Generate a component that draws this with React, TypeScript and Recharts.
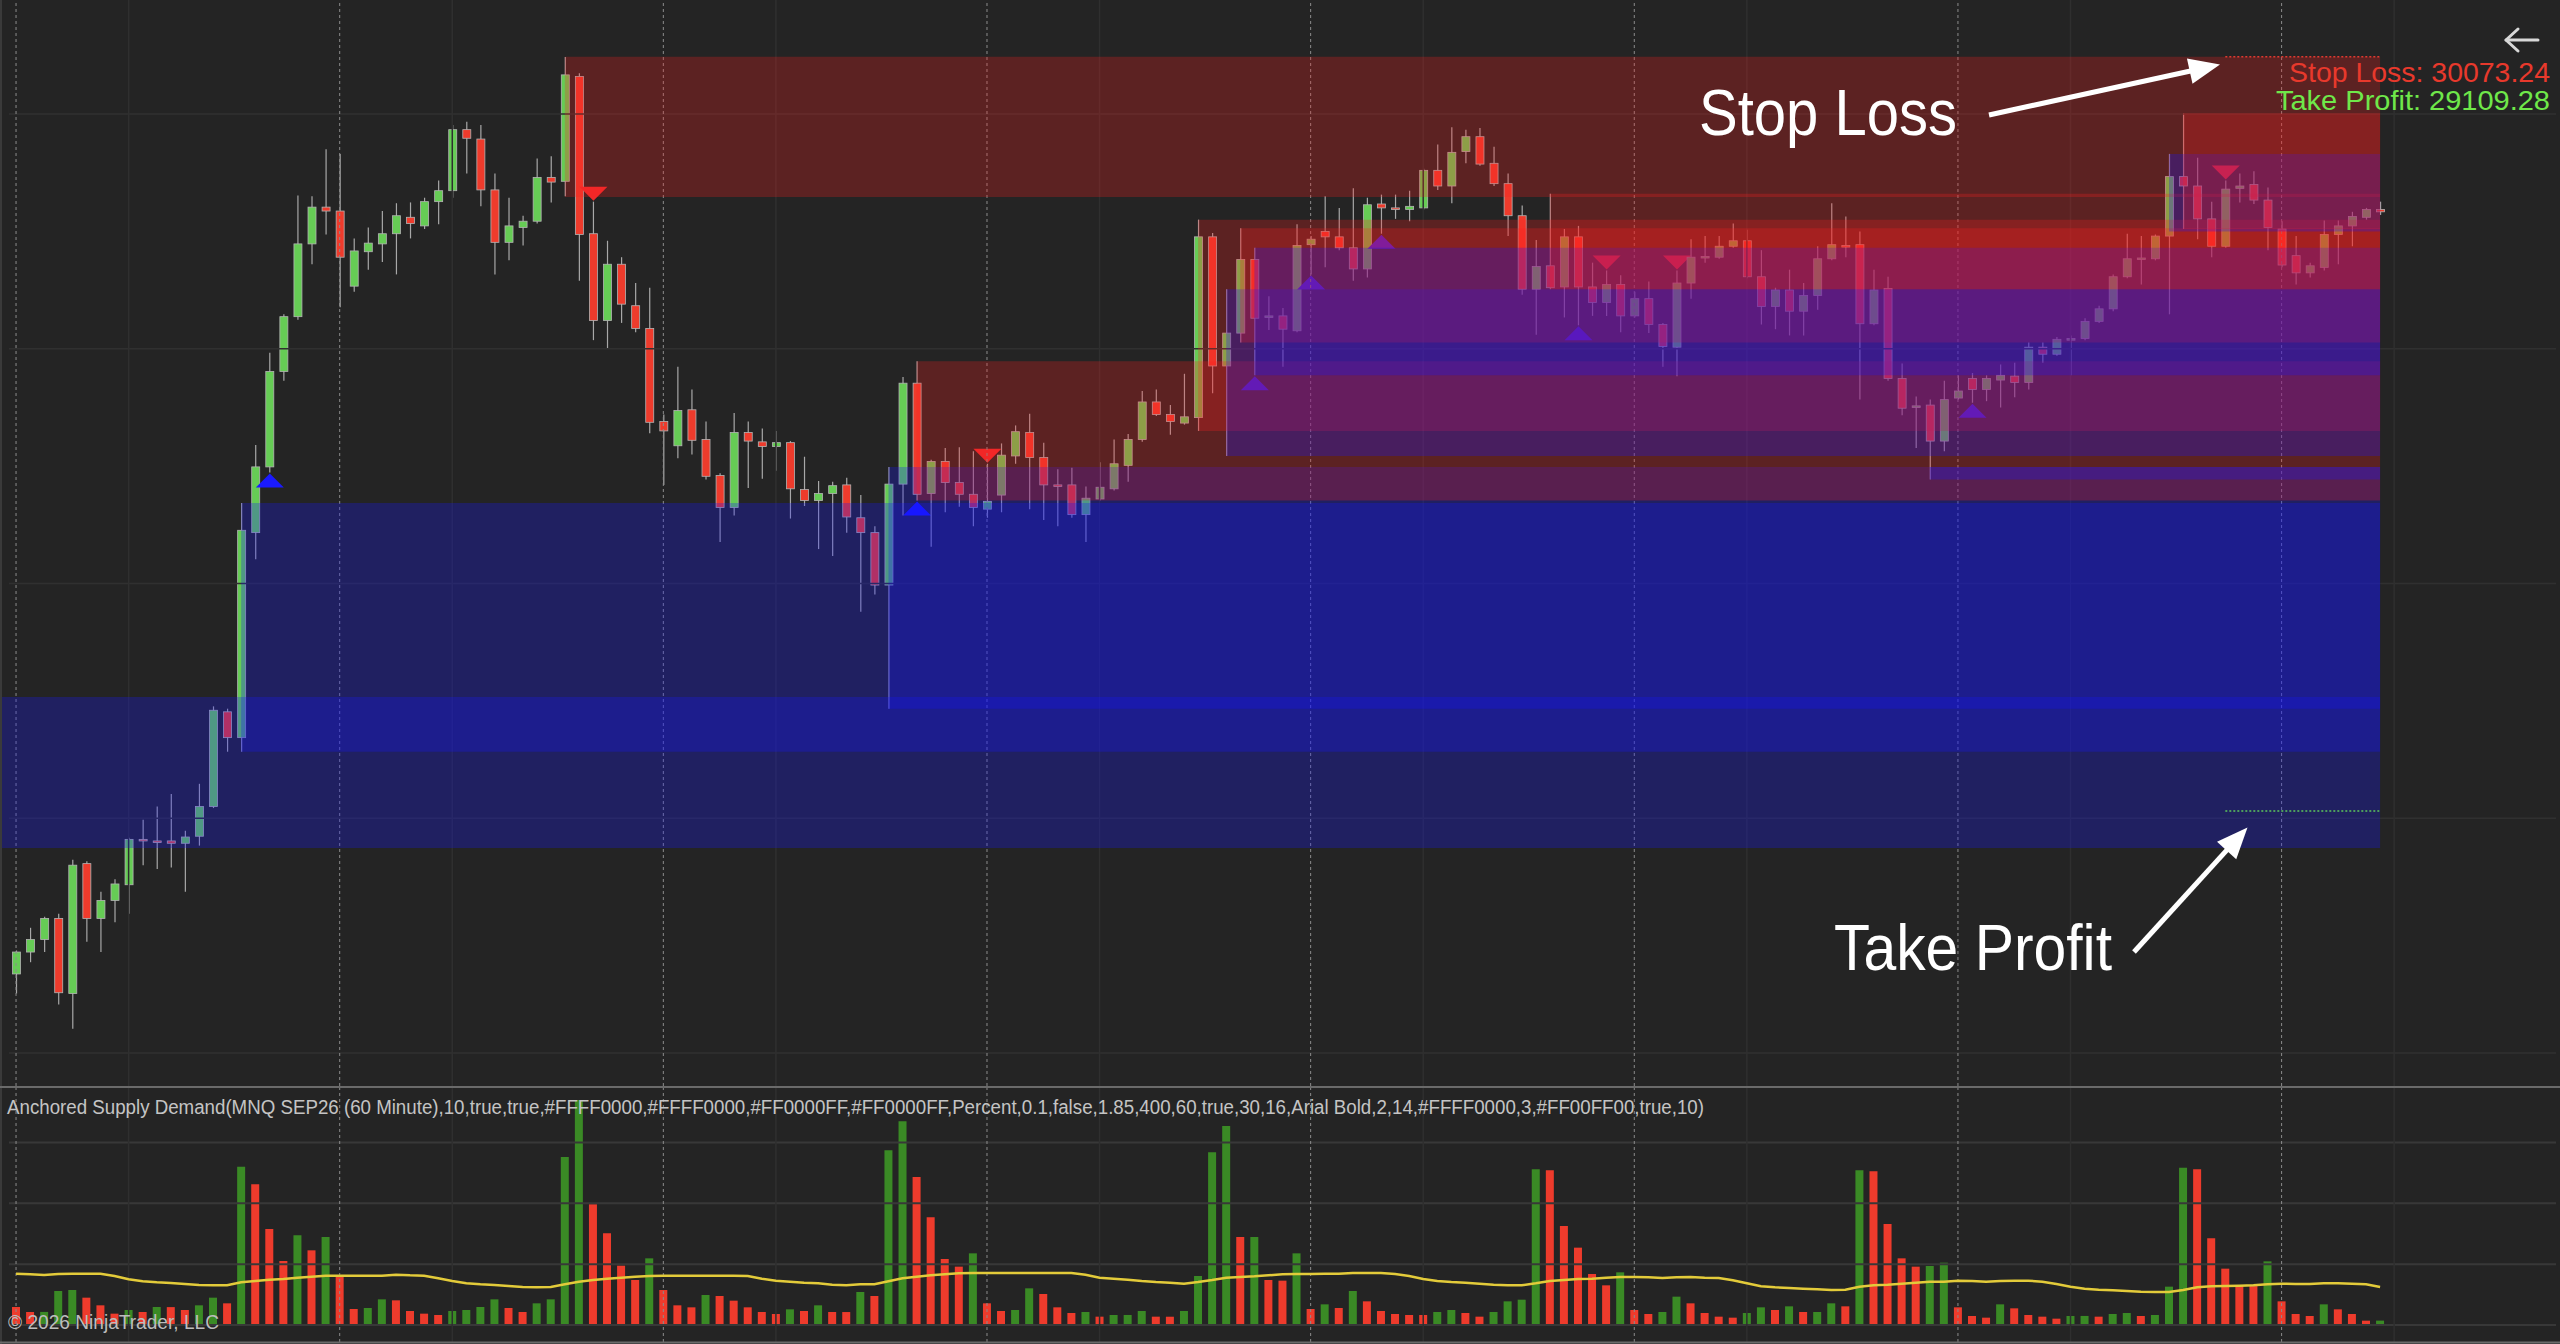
import { ComposedChart, Bar, Line, Cell, XAxis, YAxis, ReferenceLine, ReferenceArea } from 'recharts'

// MNQ SEP26, 60 minute bars
const OPEN = [
  28901, 28929, 28945, 28972, 28876, 29042, 28972, 28995, 29015, 29073,
  29071, 29071, 29068, 29077, 29115, 29236, 29203, 29465, 29549, 29671,
  29741, 29834, 29881, 29876, 29780, 29824, 29834, 29847, 29868, 29857,
  29888, 29902, 29980, 29968, 29903, 29836, 29855, 29863, 29919, 29914,
  30048, 29847, 29736, 29808, 29755, 29726, 29607, 29576, 29622, 29584,
  29538, 29497, 29593, 29581, 29575, 29580, 29520, 29506, 29515, 29526,
  29484, 29465, 29398, 29527, 29656, 29515, 29556, 29529, 29514, 29495,
  29513, 29563, 29593, 29561, 29526, 29526, 29488, 29508, 29521, 29551,
  29584, 29632, 29616, 29605, 29612, 29843, 29678, 29720, 29814, 29740,
  29742, 29723, 29833, 29850, 29843, 29829, 29802, 29885, 29880, 29878,
  29880, 29928, 29908, 29952, 29971, 29937, 29911, 29870, 29776, 29806,
  29779, 29843, 29779, 29759, 29782, 29742, 29764, 29731, 29702, 29784,
  29817, 29817, 29831, 29838, 29792, 29754, 29775, 29748, 29768, 29815,
  29832, 29833, 29732, 29777, 29662, 29625, 29628, 29582, 29637, 29662,
  29648, 29660, 29665, 29657, 29702, 29693, 29712, 29713, 29735, 29751,
  29792, 29815, 29815, 29844, 29920, 29908, 29866, 29831, 29905, 29910,
  29890, 29853, 29819, 29797, 29804, 29846, 29857, 29868, 29878,
]
const HIGH = [
  28931, 28960, 28974, 28978, 29047, 29045, 29006, 29022, 29075, 29098,
  29115, 29131, 29084, 29144, 29243, 29240, 29503, 29577, 29695, 29744,
  29896, 29895, 29955, 29949, 29841, 29855, 29876, 29886, 29887, 29893,
  29915, 29986, 29990, 29986, 29924, 29893, 29870, 29943, 29946, 30073,
  30052, 29888, 29838, 29817, 29784, 29778, 29616, 29677, 29648, 29607,
  29541, 29618, 29607, 29598, 29595, 29582, 29562, 29531, 29530, 29535,
  29513, 29473, 29549, 29664, 29684, 29558, 29573, 29574, 29569, 29553,
  29579, 29602, 29617, 29580, 29546, 29548, 29524, 29555, 29584, 29591,
  29646, 29648, 29628, 29668, 29865, 29848, 29776, 29854, 29829, 29767,
  29752, 29859, 29844, 29895, 29880, 29905, 29893, 29897, 29897, 29902,
  29930, 29961, 29983, 29980, 29982, 29958, 29924, 29883, 29839, 29898,
  29853, 29857, 29810, 29800, 29794, 29773, 29786, 29733, 29800, 29840,
  29844, 29844, 29860, 29852, 29826, 29778, 29801, 29784, 29831, 29886,
  29869, 29850, 29801, 29792, 29681, 29639, 29635, 29659, 29666, 29669,
  29666, 29680, 29682, 29708, 29708, 29715, 29717, 29739, 29755, 29795,
  29847, 29844, 29846, 29949, 30001, 29944, 29888, 29915, 29924, 29927,
  29906, 29863, 29844, 29810, 29864, 29864, 29875, 29880, 29888,
]
const LOW = [
  28876, 28916, 28929, 28862, 28831, 28942, 28929, 28967, 28978, 29040,
  29035, 29037, 29006, 29065, 29113, 29185, 29185, 29431, 29542, 29659,
  29737, 29808, 29846, 29753, 29773, 29801, 29811, 29795, 29841, 29853,
  29859, 29893, 29924, 29882, 29795, 29813, 29832, 29860, 29887, 29895,
  29787, 29711, 29700, 29733, 29721, 29592, 29526, 29560, 29565, 29533,
  29453, 29487, 29522, 29534, 29544, 29483, 29499, 29444, 29435, 29465,
  29364, 29386, 29240, 29487, 29506, 29447, 29491, 29498, 29473, 29484,
  29491, 29553, 29495, 29481, 29473, 29484, 29453, 29506, 29519, 29530,
  29581, 29614, 29590, 29603, 29595, 29643, 29563, 29708, 29666, 29724,
  29677, 29721, 29795, 29804, 29826, 29787, 29791, 29847, 29866, 29863,
  29878, 29903, 29886, 29937, 29934, 29908, 29844, 29769, 29718, 29776,
  29740, 29730, 29742, 29742, 29721, 29740, 29720, 29677, 29665, 29764,
  29810, 29815, 29829, 29790, 29731, 29725, 29717, 29717, 29750, 29813,
  29817, 29635, 29730, 29659, 29615, 29573, 29533, 29569, 29635, 29631,
  29633, 29625, 29638, 29648, 29682, 29691, 29666, 29711, 29733, 29748,
  29790, 29782, 29813, 29744, 29853, 29840, 29817, 29829, 29887, 29885,
  29826, 29804, 29782, 29791, 29800, 29808, 29831, 29865, 29871,
]
const CLOSE = [
  28929, 28945, 28972, 28877, 29040, 28972, 28995, 29016, 29073, 29072,
  29070, 29068, 29076, 29115, 29238, 29203, 29468, 29549, 29671, 29741,
  29834, 29881, 29876, 29817, 29825, 29835, 29847, 29870, 29860, 29888,
  29902, 29980, 29969, 29903, 29836, 29857, 29863, 29919, 29913, 30050,
  29846, 29736, 29808, 29757, 29726, 29606, 29595, 29621, 29583, 29537,
  29497, 29593, 29582, 29575, 29580, 29521, 29506, 29515, 29525, 29485,
  29465, 29398, 29527, 29656, 29514, 29556, 29529, 29514, 29497, 29505,
  29564, 29594, 29561, 29526, 29525, 29488, 29509, 29523, 29553, 29584,
  29632, 29616, 29607, 29613, 29843, 29678, 29720, 29814, 29739, 29742,
  29725, 29832, 29840, 29843, 29829, 29802, 29884, 29880, 29879, 29882,
  29928, 29908, 29951, 29971, 29936, 29911, 29870, 29776, 29805, 29778,
  29843, 29779, 29759, 29782, 29742, 29764, 29731, 29703, 29784, 29817,
  29818, 29831, 29838, 29792, 29754, 29775, 29748, 29768, 29815, 29833,
  29831, 29732, 29775, 29662, 29624, 29627, 29582, 29635, 29646, 29648,
  29662, 29666, 29657, 29702, 29693, 29712, 29713, 29735, 29751, 29792,
  29815, 29816, 29844, 29920, 29908, 29866, 29831, 29904, 29908, 29890,
  29855, 29807, 29797, 29806, 29846, 29857, 29869, 29878, 29875,
]
const VOLUME = [
  2959, 2137, 2150, 5590, 5754, 4494, 3233, 1863, 2466, 2137,
  2959, 2940, 2466, 3233, 4494, 3562, 26030, 23126, 15782, 10522,
  14741, 12275, 14467, 7946, 2630, 2795, 4220, 4055, 2302, 1863,
  1644, 2302, 2466, 2959, 4220, 2795, 2137, 3562, 4220, 27619,
  36990, 19838, 15070, 9754, 7398, 10960, 5754, 3233, 2904, 4932,
  4768, 4000, 2904, 2137, 1808, 2576, 2302, 3233, 2137, 2130,
  5425, 4768, 28715, 33483, 24331, 17700, 10850, 9590, 11782, 3562,
  2302, 2466, 6028, 5096, 2904, 1973, 2137, 1370, 1644, 1650,
  2302, 1370, 1360, 2302, 8056, 28386, 32716, 14467, 14480, 7398,
  7288, 11782, 2630, 3398, 2795, 5590, 3891, 2302, 1808, 1644,
  1640, 2137, 2466, 1973, 1370, 2137, 3891, 4165, 25592, 25427,
  16276, 12714, 8384, 6521, 8658, 2466, 1808, 2137, 4658, 3562,
  1973, 1370, 1206, 1973, 2904, 2466, 3069, 2137, 2140, 3562,
  3069, 25427, 25263, 16604, 10960, 9590, 9700, 10248, 2904, 1480,
  1206, 3398, 2740, 1644, 1370, 1041, 1480, 1490, 1370, 1808,
  1973, 1480, 1644, 6302, 25866, 25592, 14248, 9261, 6412, 6400,
  10467, 3891, 1808, 1480, 3398, 2576, 1808, 712, 720,
]
// yellow volume average line
const VOLUME_AVG = [
  8439, 8330, 8220, 8384, 8439, 8439, 8439, 8056, 7508, 7179,
  7014, 6905, 6740, 6576, 6521, 6521, 7014, 7234, 7453, 7562,
  7782, 7946, 8110, 8110, 8110, 8110, 8110, 8275, 8165, 8110,
  7672, 7234, 6850, 6686, 6576, 6412, 6247, 6192, 6247, 6686,
  7124, 7398, 7617, 7782, 7946, 8056, 8110, 8110, 8110, 8110,
  8110, 8110, 8056, 7617, 7288, 7124, 6960, 6850, 6631, 6521,
  6686, 6686, 7179, 7672, 7946, 8165, 8330, 8494, 8549, 8549,
  8549, 8549, 8549, 8549, 8549, 8549, 8275, 7782, 7617, 7453,
  7234, 7069, 6960, 6795, 7069, 7398, 7782, 7891, 8001, 8165,
  8330, 8384, 8384, 8439, 8439, 8549, 8549, 8549, 8384, 8056,
  7562, 7234, 7069, 6960, 6795, 6631, 6521, 6521, 6850, 7234,
  7398, 7562, 7617, 7782, 7891, 7891, 7836, 7727, 7836, 7891,
  7782, 7727, 7343, 6850, 6357, 6192, 6083, 5973, 5864, 5754,
  5809, 6302, 6521, 6631, 6795, 6960, 7124, 7124, 7288, 7234,
  7124, 7234, 7288, 7288, 7124, 6740, 6302, 5973, 5809, 5699,
  5590, 5480, 5425, 5425, 5754, 6192, 6357, 6412, 6466, 6521,
  6686, 6795, 6740, 6740, 6850, 6850, 6795, 6686, 6247,
]

// anchored zones: kind, anchor bar, top, bottom (all run to the last bar)
const ZONE_KIND = ['demand', 'demand', 'supply', 'demand', 'supply', 'supply', 'demand', 'supply', 'demand', 'supply', 'demand', 'demand', 'supply']
const ZONE_FROM = [-1, 16, 39, 62, 64, 84, 86, 87, 88, 109, 136, 153, 154]
const ZONE_HIGH = [29255, 29503, 30073.24, 29549, 29684, 29865, 29776, 29854, 29829, 29898, 29549, 29949, 30001]
const ZONE_LOW = [29062, 29185, 29894, 29240, 29506, 29595, 29563, 29708, 29666, 29776, 29533, 29850, 29853]

const DEMAND_MARKS = [18, 64, 88, 92, 97, 111, 139]
const SUPPLY_MARKS = [41, 69, 113, 118, 157]

const STOP_LOSS = 30073.24
const TAKE_PROFIT = 29109.28
const LEVEL_FROM = 157

const SESSION_BARS = [0, 23, 46, 69, 92, 115, 138, 161]
const TIME_GRID_BARS = [8, 31, 54, 77, 100, 123, 146, 169]
const PRICE_GRID = [30000, 29700, 29400, 29100, 28800]
const VOLUME_GRID = [0, 10000, 20000, 30000]

const LABEL =
  'Anchored Supply Demand(MNQ SEP26 (60 Minute),10,true,true,#FFFF0000,#FFFF0000,#FF0000FF,#FF0000FF,Percent,0.1,false,1.85,400,60,true,30,16,Arial Bold,2,14,#FFFF0000,3,#FF00FF00,true,10)'

const W = 2560
const PRICE_H = 1086
const VOL_TOP = 1087
const VOL_H = 255
const P_MIN = 28757.8
const P_MAX = 30145.7
const V_MIN = -2795
const V_MAX = 39125
const SLOTS = 181

const BG = '#242424'
const UP = '#66cc55'
const DOWN = '#ee3b2c'
const VOL_UP = '#3a8a25'
const FONT = '"Liberation Sans", Arial, sans-serif'

interface Row {
  idx: number
  open?: number
  high?: number
  low?: number
  close?: number
  range?: [number, number]
  vol?: number
  avg?: number
  volColor?: string
  demand?: boolean
  supply?: boolean
}

const rows: Row[] = Array.from({ length: SLOTS }, (_, i) => {
  if (i >= OPEN.length) return { idx: i }
  return {
    idx: i,
    open: OPEN[i],
    high: HIGH[i],
    low: LOW[i],
    close: CLOSE[i],
    range: [LOW[i], HIGH[i]],
    vol: VOLUME[i],
    avg: VOLUME_AVG[i],
    volColor: i > 0 && VOLUME[i] > VOLUME[i - 1] ? VOL_UP : DOWN,
    demand: DEMAND_MARKS.includes(i),
    supply: SUPPLY_MARKS.includes(i),
  }
})

function Candle(props: any) {
  const { x, y, width, height, payload } = props
  if (!payload || payload.open == null || y == null || height == null) return null
  const { open, close, high, low } = payload
  const top = Math.min(y, y + height)
  const h = Math.abs(height)
  const span = high - low || 1
  const py = (v: number) => top + ((high - v) / span) * h
  const cx = x + width / 2
  const up = close >= open
  const bodyTop = py(Math.max(open, close))
  const bodyH = Math.max(py(Math.min(open, close)) - bodyTop, 1.6)
  const bottom = top + h
  return (
    <g>
      <line x1={cx} x2={cx} y1={top} y2={bottom} stroke="#a8a8a8" strokeWidth={1.2} />
      <rect x={cx - 4} y={bodyTop} width={8} height={bodyH} fill={up ? UP : DOWN} stroke="#b4b4b4" strokeWidth={0.8} />
      {payload.demand && (
        <polygon points={`${cx},${bottom + 1} ${cx - 14},${bottom + 15} ${cx + 14},${bottom + 15}`} fill="#1a1aff" />
      )}
      {payload.supply && (
        <polygon points={`${cx},${top - 1} ${cx - 14},${top - 15} ${cx + 14},${top - 15}`} fill="#ee2a2a" />
      )}
    </g>
  )
}

function Arrow({ from, to }: { from: [number, number]; to: [number, number] }) {
  const dx = to[0] - from[0]
  const dy = to[1] - from[1]
  const len = Math.hypot(dx, dy)
  const ux = dx / len
  const uy = dy / len
  const bx = to[0] - ux * 31
  const by = to[1] - uy * 31
  const nx = -uy * 13
  const ny = ux * 13
  return (
    <g>
      <line x1={from[0]} y1={from[1]} x2={bx + ux * 2} y2={by + uy * 2} stroke="#ffffff" strokeWidth={5} />
      <polygon points={`${to[0]},${to[1]} ${bx + nx},${by + ny} ${bx - nx},${by - ny}`} fill="#ffffff" />
    </g>
  )
}

export default function App() {
  return (
    <div style={{ position: 'absolute', left: 0, top: 0, width: W, height: 1344, background: BG, overflow: 'hidden' }}>
      {/* price panel: grid + candles */}
      <div style={{ position: 'absolute', left: 0, top: 0 }}>
        <ComposedChart width={W} height={PRICE_H} data={rows} margin={{ top: 0, right: 4, bottom: 0, left: 9 }}>
          <XAxis xAxisId="cat" dataKey="idx" type="category" hide />
          <XAxis xAxisId="num" dataKey="idx" type="number" domain={[-0.5, 180.5]} hide allowDataOverflow />
          <YAxis yAxisId="p" type="number" domain={[P_MIN, P_MAX]} hide allowDataOverflow />
          {PRICE_GRID.map((p) => (
            <ReferenceLine key={`h${p}`} xAxisId="num" yAxisId="p" y={p} stroke="#303030" strokeWidth={1.5} />
          ))}
          {TIME_GRID_BARS.map((b) => (
            <ReferenceLine key={`g${b}`} xAxisId="num" yAxisId="p" x={b} stroke="#2f2f2f" strokeWidth={1.5} />
          ))}
          {SESSION_BARS.map((b) => (
            <ReferenceLine key={`s${b}`} xAxisId="num" yAxisId="p" x={b} stroke="#8c8c8c" strokeDasharray="3 3" />
          ))}
          <Bar xAxisId="cat" yAxisId="p" dataKey="range" barSize={9} shape={Candle} isAnimationActive={false} />
        </ComposedChart>
      </div>

      {/* zones drawn over the candles */}
      <div style={{ position: 'absolute', left: 0, top: 0, pointerEvents: 'none' }}>
        <ComposedChart width={W} height={PRICE_H} data={rows} margin={{ top: 0, right: 4, bottom: 0, left: 0 }}>
          <XAxis xAxisId="num" dataKey="idx" type="number" domain={[-1.1397, 180.5]} hide allowDataOverflow />
          <YAxis yAxisId="p" type="number" domain={[P_MIN, P_MAX]} hide allowDataOverflow />
          {ZONE_KIND.map((kind, i) => (
            <ReferenceArea
              key={`z${i}`}
              xAxisId="num"
              yAxisId="p"
              x1={ZONE_FROM[i]}
              x2={OPEN.length - 1}
              y1={ZONE_LOW[i]}
              y2={ZONE_HIGH[i]}
              fill={kind === 'supply' ? '#ff1e1e' : '#1515ff'}
              fillOpacity={kind === 'supply' ? 0.26 : 0.28}
              stroke="none"
            />
          ))}
          <ReferenceLine
            xAxisId="num"
            yAxisId="p"
            segment={[{ x: LEVEL_FROM, y: STOP_LOSS }, { x: OPEN.length - 1, y: STOP_LOSS }]}
            stroke="#e03a30"
            strokeWidth={1.5}
            strokeDasharray="2 2"
          />
          <ReferenceLine
            xAxisId="num"
            yAxisId="p"
            segment={[{ x: LEVEL_FROM, y: TAKE_PROFIT }, { x: OPEN.length - 1, y: TAKE_PROFIT }]}
            stroke="#5cc65c"
            strokeWidth={1.5}
            strokeDasharray="2 2"
          />
          <Line xAxisId="num" yAxisId="p" dataKey="close" stroke="none" dot={false} isAnimationActive={false} />
        </ComposedChart>
      </div>

      {/* volume panel */}
      <div style={{ position: 'absolute', left: 0, top: VOL_TOP }}>
        <ComposedChart width={W} height={VOL_H} data={rows} margin={{ top: 0, right: 4, bottom: 0, left: 9 }}>
          <XAxis xAxisId="cat" dataKey="idx" type="category" hide />
          <XAxis xAxisId="num" dataKey="idx" type="number" domain={[-0.5, 180.5]} hide allowDataOverflow />
          <YAxis yAxisId="v" type="number" domain={[V_MIN, V_MAX]} hide allowDataOverflow />
          {VOLUME_GRID.map((v) => (
            <ReferenceLine key={`vh${v}`} xAxisId="num" yAxisId="v" y={v} stroke="#383838" strokeWidth={2} />
          ))}
          {TIME_GRID_BARS.map((b) => (
            <ReferenceLine key={`vg${b}`} xAxisId="num" yAxisId="v" x={b} stroke="#2f2f2f" strokeWidth={1.5} />
          ))}
          {SESSION_BARS.map((b) => (
            <ReferenceLine key={`vs${b}`} xAxisId="num" yAxisId="v" x={b} stroke="#8c8c8c" strokeDasharray="3 3" />
          ))}
          <Bar xAxisId="cat" yAxisId="v" dataKey="vol" barSize={8} isAnimationActive={false}>
            {rows.map((r) => (
              <Cell key={`c${r.idx}`} fill={r.volColor || 'none'} />
            ))}
          </Bar>
          <Line
            xAxisId="cat"
            yAxisId="v"
            dataKey="avg"
            stroke="#e3cb3a"
            strokeWidth={2.5}
            dot={false}
            isAnimationActive={false}
          />
        </ComposedChart>
      </div>

      {/* annotations, panel borders and texts */}
      <svg width={W} height={1344} style={{ position: 'absolute', left: 0, top: 0, pointerEvents: 'none' }}>
        <line x1={1} y1={0} x2={1} y2={1344} stroke="#3a3a3a" strokeWidth={2} />
        <line x1={0} y1={1087} x2={W} y2={1087} stroke="#6a6a6a" strokeWidth={2} />
        <line x1={0} y1={1342.5} x2={W} y2={1342.5} stroke="#6a6a6a" strokeWidth={2} />

        <text x={1699} y={135} fontFamily={FONT} fontSize={65} fill="#ffffff" textLength={258} lengthAdjust="spacingAndGlyphs">
          Stop Loss
        </text>
        <text x={1834} y={970} fontFamily={FONT} fontSize={65} fill="#ffffff" textLength={278} lengthAdjust="spacingAndGlyphs">
          Take Profit
        </text>
        <Arrow from={[1989, 115]} to={[2220, 64.5]} />
        <Arrow from={[2134, 952]} to={[2247.5, 827.5]} />

        <text x={2289} y={82} fontFamily={FONT} fontSize={28} fill="#e8392c" textLength={261} lengthAdjust="spacingAndGlyphs">
          Stop Loss: 30073.24
        </text>
        <text x={2276} y={110} fontFamily={FONT} fontSize={28} fill="#6fe84a" textLength={274} lengthAdjust="spacingAndGlyphs">
          Take Profit: 29109.28
        </text>
        <g stroke="#d8d8d8" strokeWidth={3} fill="none" strokeLinecap="round" strokeLinejoin="round">
          <line x1={2506} y1={40} x2={2538} y2={40} />
          <polyline points="2518,29 2506,40 2518,51" />
        </g>

        <text x={7} y={1114} fontFamily={FONT} fontSize={20} fill="#c4c4c4" textLength={1697} lengthAdjust="spacingAndGlyphs">
          {LABEL}
        </text>
        <text x={8} y={1329} fontFamily={FONT} fontSize={20} fill="#bdbdbd" textLength={211} lengthAdjust="spacingAndGlyphs">
          © 2026 NinjaTrader, LLC
        </text>
      </svg>
    </div>
  )
}
